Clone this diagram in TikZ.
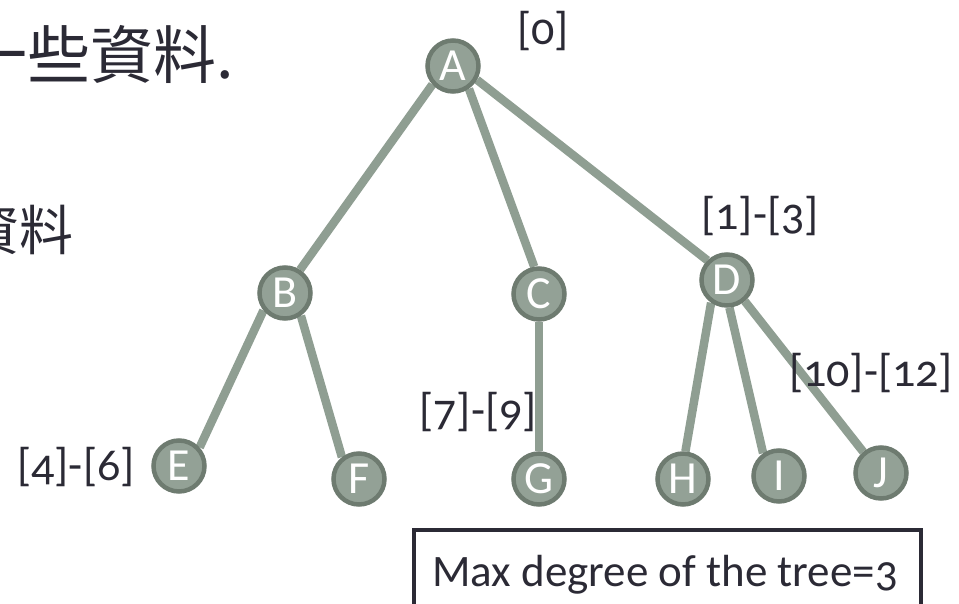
\documentclass[tikz,border=0pt]{standalone}
\usepackage{fontspec}
\setmainfont{Carlito}[Numbers=OldStyle]
\newfontfamily\cjkfont{Noto Sans CJK TC}
\definecolor{txt}{HTML}{2B2A35}
\definecolor{nodefill}{HTML}{93A196}
\definecolor{nodeline}{HTML}{6E7B70}
\definecolor{edgecol}{HTML}{8F9E92}
\pgfdeclarelayer{bg}
\pgfsetlayers{bg,main}
\begin{document}
\begin{tikzpicture}[x=1pt,y=-1pt,
  treenode/.style={circle,fill=nodefill,draw=nodeline,line width=4.5pt,
    minimum size=51pt,inner sep=0pt,text=white,
    font=\fontsize{46}{46}\selectfont},
  edge/.style={draw=edgecol,line width=8.5pt},
  lbl/.style={inner sep=0pt,text=txt,font=\fontsize{46}{46}\selectfont}]
\useasboundingbox (0,0) rectangle (959,604);
% background text
\node[anchor=base west,inner sep=0pt,text=txt,font=\cjkfont\fontsize{63}{63}\selectfont] (t1) at (-36,79) {一些資料.};
\node[anchor=base west,inner sep=0pt,text=txt,font=\cjkfont\fontsize{54}{54}\selectfont] (t2) at (-35,251) {資料};
% nodes
\node[treenode] (A) at (453,66) {A};
\node[treenode] (B) at (285,293) {B};
\node[treenode] (C) at (539,294) {C};
\node[treenode] (D) at (727,280) {D};
\node[treenode] (E) at (179,466) {E};
\node[treenode] (F) at (359,479) {F};
\node[treenode] (G) at (539,479) {G};
\node[treenode] (H) at (683,479) {H};
\node[treenode] (I) at (779,476) {I};
\node[treenode] (J) at (881,473) {J};
% edges
\begin{pgfonlayer}{bg}
\path[edge] (A.222) -- (B.57);
\path[edge] (A.305) -- (C.100);
\path[edge] (A.330) -- (D.135);
\path[edge] (B.219) -- (E.42);
\path[edge] (B.305) -- (F.128);
\path[edge] (C.270) -- (G.90);
\path[edge] (D.235) -- (H.85);
\path[edge] (D.275) -- (I.125);
\path[edge] (D.310) -- (J.130);
\end{pgfonlayer}
% labels
\node[lbl] (l0) at (543,31) {[0]};
\node[lbl] (l13) at (760,216) {[1]-[3]};
\node[lbl] (l1012) at (871,373) {[10]-[12]};
\node[lbl] (l79) at (478,412) {[7]-[9]};
\node[lbl] (l46) at (76,467) {[4]-[6]};
% box
\draw[draw=txt,line width=4pt] (414,640) -- (414,530) -- (920.5,530) -- (920.5,640);
\node[lbl,anchor=base west,font=\fontsize{45}{45}\selectfont] (maxdeg) at (432,586) {Max degree of the tree=3};
\end{tikzpicture}
\end{document}
